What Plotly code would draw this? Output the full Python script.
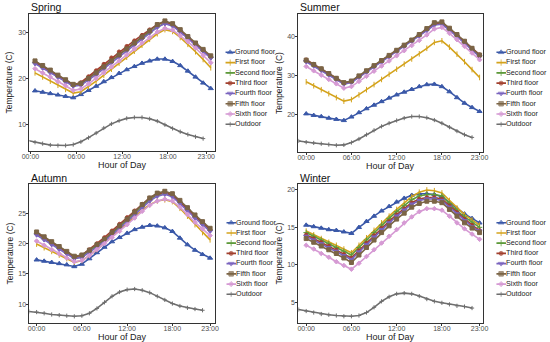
import plotly.graph_objects as go

# ---------------- data ----------------
series_names = ["Ground floor", "First floor", "Second floor", "Third floor",
                "Fourth floor", "Fifth floor", "Sixth floor", "Outdoor"]
tick_hours = [0, 6, 12, 18, 23]
tick_labels = ["00:00", "06:00", "12:00", "18:00", "23:00"]

spring_indoor_hours = [0.6, 1.6, 2.6, 3.6, 4.6, 5.6, 6.6, 7.6, 8.6, 9.6, 10.6, 11.6,
                       12.6, 13.6, 14.6, 15.6, 16.6, 17.6, 18.6, 19.6, 20.6, 21.6, 22.6, 23.6]
spring_outdoor_hours = [-0.4, 0.6, 1.6, 2.6, 3.6, 4.6, 5.6, 6.6, 7.6, 8.6, 9.6, 10.6,
                        11.6, 12.6, 13.6, 14.6, 15.6, 16.6, 17.6, 18.6, 19.6, 20.6, 21.6, 22.6]
indoor_hours = [0, 1, 2, 3, 4, 5, 6, 7, 8, 9, 10, 11, 12, 13, 14, 15, 16, 17, 18, 19, 20, 21, 22, 23]
outdoor_hours = [-1, 0, 1, 2, 3, 4, 5, 6, 7, 8, 9, 10, 11, 12, 13, 14, 15, 16, 17, 18, 19, 20, 21, 22]

spring_ground = [17.4, 17.1, 16.8, 16.5, 16.2, 15.9, 16.6, 17.5, 18.4, 19.4, 20.3, 21.2, 22.0, 22.7, 23.4, 23.9, 24.3, 24.3, 23.8, 22.9, 21.7, 20.4, 19.1, 17.9]
spring_first = [21.3, 20.4, 19.5, 18.6, 17.7, 16.9, 17.2, 18.3, 19.5, 20.8, 22.1, 23.4, 24.7, 26.0, 27.3, 28.6, 29.8, 30.7, 30.3, 29.0, 27.5, 25.9, 24.2, 22.4]
spring_second = [23.5, 22.5, 21.5, 20.5, 19.5, 18.5, 18.9, 20.1, 21.4, 22.7, 24.0, 25.3, 26.5, 27.7, 28.9, 30.1, 31.3, 32.1, 31.6, 30.3, 28.9, 27.5, 26.1, 24.7]
spring_third = [23.7, 22.7, 21.7, 20.7, 19.7, 18.7, 19.2, 20.5, 21.8, 23.2, 24.6, 25.9, 27.1, 28.3, 29.5, 30.7, 31.8, 32.4, 31.8, 30.5, 29.0, 27.6, 26.2, 24.8]
spring_fourth = [23.3, 22.3, 21.3, 20.3, 19.3, 18.4, 18.6, 19.7, 20.9, 22.2, 23.5, 24.8, 26.1, 27.4, 28.7, 30.0, 31.2, 32.0, 31.5, 30.2, 28.8, 27.4, 26.0, 24.5]
spring_fifth = [23.9, 22.9, 21.9, 20.8, 19.8, 18.8, 19.0, 20.1, 21.3, 22.6, 23.9, 25.2, 26.5, 27.8, 29.1, 30.4, 31.8, 32.6, 32.0, 30.7, 29.2, 27.8, 26.4, 25.0]
spring_sixth = [22.2, 21.3, 20.4, 19.4, 18.5, 17.5, 17.8, 18.9, 20.1, 21.3, 22.6, 23.9, 25.2, 26.5, 27.8, 29.0, 30.2, 31.0, 30.6, 29.4, 28.1, 26.7, 25.1, 23.5]
spring_outdoor = [6.6, 6.2, 5.9, 5.6, 5.5, 5.5, 5.7, 6.3, 7.2, 8.2, 9.3, 10.2, 10.9, 11.4, 11.6, 11.6, 11.3, 10.8, 10.0, 9.2, 8.5, 7.9, 7.4, 7.0]

summer_ground = [20.3, 19.9, 19.6, 19.2, 18.9, 18.6, 19.5, 20.6, 21.6, 22.5, 23.4, 24.3, 25.1, 25.8, 26.5, 27.2, 27.7, 27.8, 27.2, 25.9, 24.4, 23.0, 21.9, 20.9]
summer_first = [28.4, 27.4, 26.4, 25.4, 24.4, 23.5, 23.9, 25.1, 26.4, 27.7, 29.0, 30.3, 31.6, 32.9, 34.2, 35.5, 36.9, 38.4, 38.8, 37.2, 35.4, 33.5, 31.5, 29.5]
summer_second = [33.7, 32.6, 31.5, 30.3, 29.1, 28.0, 28.4, 29.7, 31.0, 32.3, 33.6, 34.9, 36.2, 37.5, 38.8, 40.2, 41.6, 43.0, 43.2, 41.7, 40.1, 38.4, 36.6, 35.0]
summer_third = [34.0, 32.9, 31.7, 30.5, 29.3, 28.1, 28.5, 29.8, 31.1, 32.4, 33.7, 35.0, 36.3, 37.6, 38.9, 40.3, 41.8, 43.2, 43.4, 41.9, 40.3, 38.6, 36.9, 35.3]
summer_fourth = [33.5, 32.4, 31.3, 30.1, 28.9, 27.8, 28.2, 29.5, 30.8, 32.1, 33.4, 34.7, 36.0, 37.3, 38.6, 40.0, 41.4, 42.8, 43.0, 41.5, 39.9, 38.2, 36.4, 34.8]
summer_fifth = [33.9, 32.8, 31.7, 30.5, 29.3, 28.2, 28.6, 29.9, 31.2, 32.5, 33.8, 35.1, 36.4, 37.7, 39.0, 40.4, 41.9, 43.4, 43.6, 42.0, 40.4, 38.7, 36.9, 35.2]
summer_sixth = [32.3, 31.2, 30.1, 29.0, 27.9, 26.8, 27.2, 28.5, 29.8, 31.1, 32.4, 33.7, 35.0, 36.3, 37.6, 38.9, 40.3, 41.8, 42.2, 40.7, 39.1, 37.4, 35.7, 34.0]
summer_outdoor = [13.4, 13.1, 12.9, 12.7, 12.5, 12.3, 12.4, 13.0, 13.9, 15.0, 16.1, 17.1, 17.9, 18.6, 19.2, 19.6, 19.6, 19.3, 18.7, 17.9, 16.9, 15.9, 15.0, 14.3]

autumn_ground = [17.3, 17.1, 16.9, 16.7, 16.5, 16.2, 16.6, 17.5, 18.5, 19.4, 20.3, 21.0, 21.7, 22.3, 22.7, 23.0, 22.9, 22.6, 22.0, 20.9, 19.8, 18.9, 18.2, 17.6]
autumn_first = [19.9, 19.3, 18.7, 18.1, 17.5, 16.9, 17.2, 18.0, 19.0, 20.1, 21.2, 22.3, 23.4, 24.5, 25.5, 26.4, 27.0, 27.2, 26.9, 25.8, 24.5, 23.1, 21.8, 20.6]
autumn_second = [21.6, 20.8, 20.0, 19.2, 18.4, 17.6, 17.9, 18.7, 19.6, 20.6, 21.6, 22.7, 23.8, 24.9, 26.1, 27.2, 28.0, 28.3, 27.9, 26.8, 25.6, 24.4, 23.3, 22.2]
autumn_third = [21.8, 21.0, 20.2, 19.4, 18.6, 17.8, 18.1, 19.0, 20.0, 21.0, 22.1, 23.2, 24.3, 25.4, 26.5, 27.5, 28.2, 28.4, 28.0, 26.9, 25.7, 24.5, 23.4, 22.3]
autumn_fourth = [21.4, 20.6, 19.8, 19.0, 18.3, 17.5, 17.7, 18.5, 19.4, 20.4, 21.4, 22.5, 23.6, 24.7, 25.9, 27.0, 27.8, 28.1, 27.7, 26.6, 25.4, 24.2, 23.1, 22.0]
autumn_fifth = [21.9, 21.1, 20.3, 19.5, 18.7, 17.9, 18.1, 18.9, 19.8, 20.7, 21.8, 22.9, 24.0, 25.2, 26.4, 27.5, 28.3, 28.6, 28.2, 27.1, 25.9, 24.7, 23.6, 22.5]
autumn_sixth = [20.4, 19.7, 19.0, 18.3, 17.6, 17.0, 17.2, 18.0, 19.0, 20.0, 21.0, 22.0, 23.1, 24.2, 25.3, 26.3, 27.0, 27.3, 27.0, 26.0, 24.8, 23.5, 22.4, 21.3]
autumn_outdoor = [8.8, 8.7, 8.5, 8.3, 8.2, 8.1, 8.0, 8.1, 8.5, 9.3, 10.3, 11.3, 12.0, 12.4, 12.5, 12.3, 11.9, 11.3, 10.7, 10.1, 9.7, 9.4, 9.2, 9.0]

winter_ground = [15.3, 15.1, 14.9, 14.7, 14.6, 14.4, 14.2, 15.0, 15.8, 16.5, 17.2, 17.8, 18.4, 18.9, 19.3, 19.5, 19.5, 19.4, 19.1, 18.3, 17.5, 16.8, 16.2, 15.6]
winter_first = [14.5, 14.0, 13.5, 13.0, 12.6, 12.1, 11.6, 12.6, 13.6, 14.6, 15.6, 16.5, 17.4, 18.3, 19.1, 19.7, 20.0, 19.9, 19.6, 18.6, 17.6, 16.7, 16.0, 15.3]
winter_second = [14.3, 13.8, 13.3, 12.8, 12.3, 11.8, 11.3, 12.3, 13.3, 14.3, 15.3, 16.2, 17.1, 17.9, 18.7, 19.2, 19.4, 19.4, 19.2, 18.2, 17.2, 16.4, 15.7, 15.0]
winter_third = [14.0, 13.5, 13.0, 12.5, 12.0, 11.4, 10.9, 11.9, 12.9, 13.9, 14.9, 15.8, 16.7, 17.5, 18.3, 18.8, 19.0, 19.0, 18.8, 17.9, 17.0, 16.1, 15.3, 14.6]
winter_fourth = [13.8, 13.3, 12.8, 12.3, 11.8, 11.2, 10.7, 11.7, 12.7, 13.7, 14.7, 15.6, 16.5, 17.3, 18.1, 18.6, 18.8, 18.8, 18.6, 17.7, 16.8, 15.9, 15.1, 14.5]
winter_fifth = [13.5, 13.0, 12.5, 12.0, 11.5, 10.9, 10.3, 11.3, 12.3, 13.3, 14.3, 15.2, 16.1, 16.9, 17.7, 18.2, 18.5, 18.5, 18.3, 17.4, 16.5, 15.6, 14.9, 14.3]
winter_sixth = [12.6, 12.1, 11.5, 11.0, 10.4, 9.9, 9.4, 10.2, 11.1, 12.0, 12.9, 13.8, 14.7, 15.6, 16.4, 17.1, 17.5, 17.5, 17.3, 16.5, 15.6, 14.8, 14.1, 13.4]
winter_outdoor = [4.0, 3.8, 3.6, 3.4, 3.3, 3.2, 3.1, 3.1, 3.2, 3.6, 4.3, 5.1, 5.7, 6.1, 6.2, 6.1, 5.8, 5.4, 5.1, 4.9, 4.7, 4.5, 4.4, 4.2]

spring_yticks = [10, 20, 30]
summer_yticks = [20, 30, 40]
autumn_yticks = [10, 15, 20, 25]
winter_yticks = [5, 10, 15, 20]

# ---------------- styles ----------------
colors = ["#3A58A8", "#D4A31C", "#5E9A3A", "#A2402E", "#7A63BE", "#7B6446", "#D69AD4", "#6E6E6E"]
symbols = ["triangle-up", "line-ns", "cross-thin", "circle", "triangle-down", "square", "diamond", "cross-thin"]
msizes = [4.5, 4, 4, 3.5, 4.5, 4, 3.5, 3]

W, H = 550, 342
FONT = "Liberation Sans, Arial, sans-serif"

panels = [
    dict(name="Spring", ih=spring_indoor_hours, oh=spring_outdoor_hours,
         series=[spring_ground, spring_first, spring_second, spring_third, spring_fourth,
                 spring_fifth, spring_sixth, spring_outdoor],
         yticks=spring_yticks, yr=[4.3, 34.1], xr=[-0.13, 24.1],
         box=(22, 212, 14, 151), leg=(223, 233, 52.3, 124.3)),
    dict(name="Summer", ih=indoor_hours, oh=outdoor_hours,
         series=[summer_ground, summer_first, summer_second, summer_third, summer_fourth,
                 summer_fifth, summer_sixth, summer_outdoor],
         yticks=summer_yticks, yr=[10.6, 45.6], xr=[-1.03, 23.4],
         box=(298, 487, 14, 152), leg=(501, 511, 52.3, 124.3)),
    dict(name="Autumn", ih=indoor_hours, oh=outdoor_hours,
         series=[autumn_ground, autumn_first, autumn_second, autumn_third, autumn_fourth,
                 autumn_fifth, autumn_sixth, autumn_outdoor],
         yticks=autumn_yticks, yr=[6.9, 29.8], xr=[-0.95, 23.6],
         box=(22, 212, 184, 323), leg=(224, 234, 222.7, 294.3)),
    dict(name="Winter", ih=indoor_hours, oh=outdoor_hours,
         series=[winter_ground, winter_first, winter_second, winter_third, winter_fourth,
                 winter_fifth, winter_sixth, winter_outdoor],
         yticks=winter_yticks, yr=[2.2, 20.8], xr=[-1.03, 23.4],
         box=(298, 487, 184, 323), leg=(501, 511, 222.7, 294.3)),
]

fig = go.Figure()
layout = dict(width=W, height=H, margin=dict(l=0, r=0, t=0, b=0),
              paper_bgcolor="white", plot_bgcolor="white", showlegend=False,
              font=dict(family=FONT, color="#222222"))
annotations = []


def px_x(v):
    return v / W


def px_y(v):
    return 1 - v / H


for p_i, p in enumerate(panels):
    n = p_i + 1
    ax = "" if n == 1 else str(n)
    x0, x1, y0, y1 = p["box"]
    layout["xaxis" + ax] = dict(
        domain=[px_x(x0), px_x(x1)], range=p["xr"], anchor="y" + ax,
        tickmode="array", tickvals=tick_hours, ticktext=tick_labels,
        ticks="outside", ticklen=2, tickwidth=0.8, tickcolor="#333333",
        ticklabelstandoff=-3,
        tickfont=dict(size=7, color="#4D4D4D"),
        showline=True, linecolor="#333333", linewidth=1, mirror=True,
        showgrid=False, zeroline=False)
    layout["yaxis" + ax] = dict(
        domain=[px_y(y1), px_y(y0)], range=p["yr"], anchor="x" + ax,
        tickmode="array", tickvals=p["yticks"],
        ticks="outside", ticklen=2, tickwidth=0.8, tickcolor="#333333",
        ticklabelstandoff=-1,
        tickfont=dict(size=7, color="#4D4D4D"),
        showline=True, linecolor="#333333", linewidth=1, mirror=True,
        showgrid=False, zeroline=False)

    for s_i, (nm, vals) in enumerate(zip(series_names, p["series"])):
        xs = p["oh"] if nm == "Outdoor" else p["ih"]
        fig.add_trace(go.Scatter(
            x=xs, y=vals, mode="lines+markers", name=nm,
            xaxis="x" + ax, yaxis="y" + ax,
            line=dict(color=colors[s_i], width=1.6),
            marker=dict(symbol=symbols[s_i], size=msizes[s_i], color=colors[s_i],
                        line=dict(color=colors[s_i], width=1)),
            showlegend=False))

    # legend (drawn on its own hidden axes)
    lx0, lx1, ly0, ly1 = p["leg"]
    half = (ly1 - ly0) / 7 / 2
    lax = str(n + 4)
    layout["xaxis" + lax] = dict(domain=[px_x(lx0), px_x(lx1)], range=[0, 1],
                                 visible=False, anchor="y" + lax)
    layout["yaxis" + lax] = dict(domain=[px_y(ly1 + half), px_y(ly0 - half)],
                                 range=[7.5, -0.5], visible=False, anchor="x" + lax)
    for s_i, nm in enumerate(series_names):
        fig.add_trace(go.Scatter(
            x=[0, 0.5, 1], y=[s_i, s_i, s_i], mode="lines+markers+text",
            xaxis="x" + lax, yaxis="y" + lax,
            text=["", "", nm], textposition="middle right",
            textfont=dict(size=7.2, color="#222222", family=FONT),
            line=dict(color=colors[s_i], width=1.6),
            marker=dict(symbol=symbols[s_i], size=[0, msizes[s_i] + 0.5, 0],
                        color=colors[s_i], line=dict(color=colors[s_i], width=1)),
            cliponaxis=False, showlegend=False, hoverinfo="skip"))

    # panel title
    annotations.append(dict(text=p["name"], x=px_x(x0), y=px_y(y0 - 6.5), xref="paper", yref="paper",
                            xanchor="left", yanchor="middle", showarrow=False,
                            font=dict(size=10.5, color="#111111")))
    # axis titles
    annotations.append(dict(text="Hour of Day", x=px_x((x0 + x1) / 2), y=px_y(y1 + 13.5),
                            xref="paper", yref="paper", xanchor="center", yanchor="middle",
                            showarrow=False, font=dict(size=9, color="#222222")))
    annotations.append(dict(text="Temperature (C)", x=px_x(x0 - 20), y=px_y((y0 + y1) / 2),
                            xref="paper", yref="paper", xanchor="center", yanchor="middle",
                            textangle=-90, showarrow=False, font=dict(size=8.5, color="#222222")))

layout["annotations"] = annotations
fig.update_layout(**layout)
fig.write_html("out.html", config={"displayModeBar": False},
               post_script="document.body.style.margin='0';document.body.style.padding='0';document.body.style.overflow='hidden';")
